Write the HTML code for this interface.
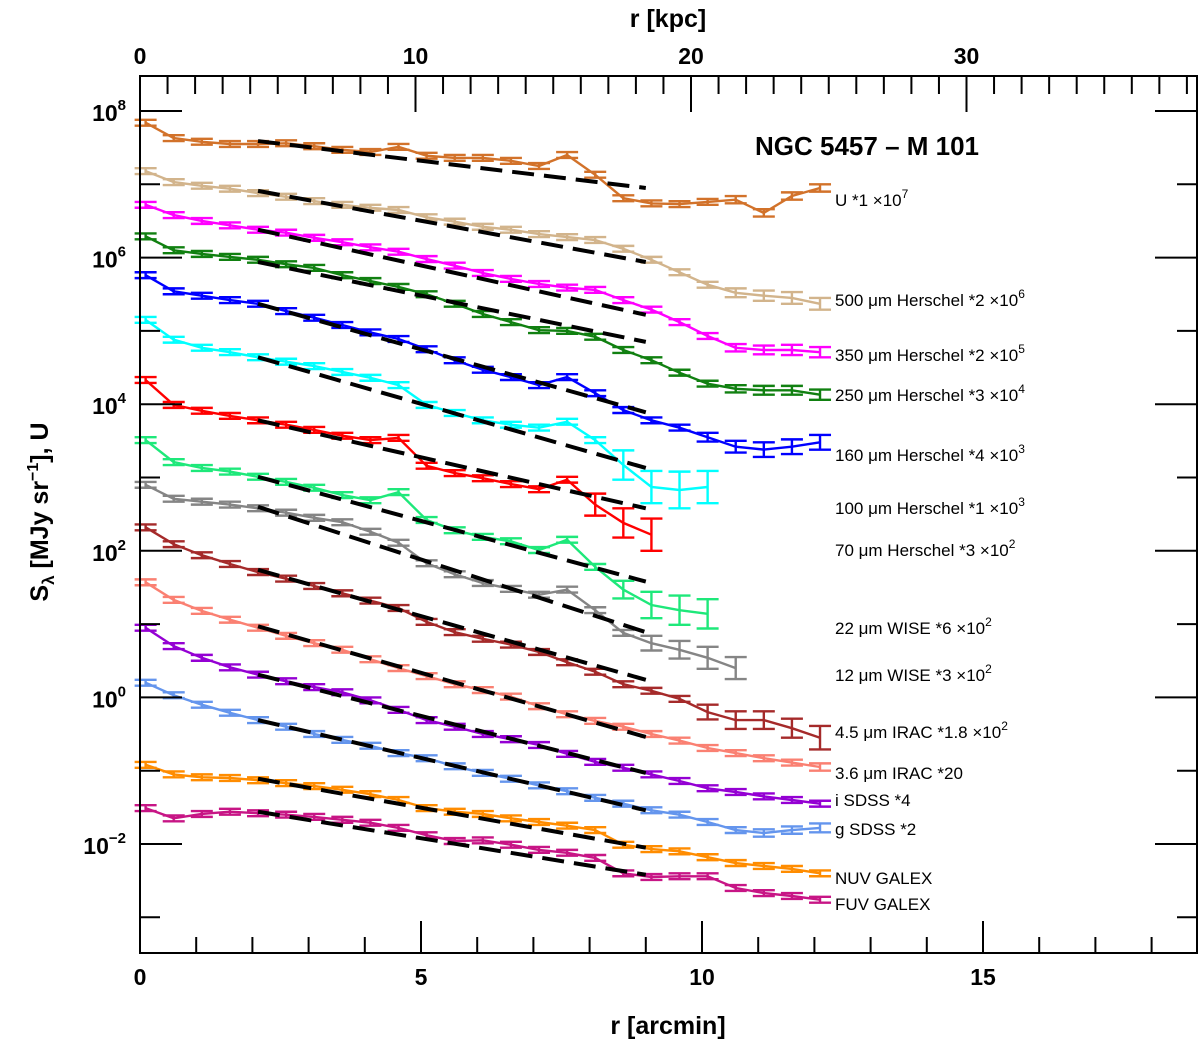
<!DOCTYPE html>
<html><head><meta charset="utf-8"><style>
html,body{margin:0;padding:0;background:#fff;}
svg text{font-family:"Liberation Sans",Arial,sans-serif;}
</style></head><body>
<svg id="chart" width="1200" height="1048" viewBox="0 0 1200 1048" xmlns="http://www.w3.org/2000/svg">
<g id="marks"></g>
<g id="axes"></g>
</svg>
<script>
// radii (arcmin) of profile bins
const radii = [0.1,0.6,1.1,1.6,2.1,2.6,3.1,3.6,4.1,4.6,5.1,5.6,6.1,6.6,7.1,7.6,8.1,8.6,9.1,9.6,10.1,10.6,11.1,11.6,12.1];
// log10 surface brightness (scaled) per band
const logU    = [7.84,7.63,7.58,7.55,7.55,7.56,7.52,7.47,7.44,7.51,7.39,7.36,7.36,7.32,7.25,7.40,7.13,6.81,6.74,6.73,6.76,6.79,6.61,6.84,6.95];
const log500  = [7.18,7.03,6.98,6.94,6.88,6.83,6.77,6.72,6.68,6.65,6.55,6.49,6.42,6.38,6.32,6.28,6.24,6.12,5.97,5.80,5.63,5.52,5.48,5.45,5.37];
const log350  = [6.72,6.58,6.50,6.44,6.38,6.34,6.27,6.21,6.14,6.08,5.98,5.89,5.79,5.71,5.64,5.59,5.56,5.42,5.29,5.12,4.93,4.77,4.74,4.74,4.71];
const log250  = [6.29,6.10,6.05,6.01,5.97,5.91,5.86,5.76,5.68,5.60,5.50,5.37,5.23,5.12,5.01,5.00,4.92,4.74,4.60,4.43,4.28,4.21,4.19,4.19,4.13];
const log160  = [5.76,5.54,5.48,5.42,5.37,5.27,5.18,5.08,4.98,4.89,4.75,4.60,4.47,4.37,4.26,4.37,4.15,3.92,3.78,3.68,3.55,3.42,3.38,3.42,3.48];
const log100  = [5.15,4.88,4.77,4.71,4.64,4.58,4.52,4.44,4.36,4.26,3.99,3.88,3.78,3.72,3.68,3.76,3.51,3.17,2.87,2.83,2.87];
const log70   = [4.33,3.99,3.91,3.84,3.78,3.72,3.65,3.57,3.51,3.54,3.16,3.06,2.99,2.91,2.84,2.97,2.63,2.38,2.22];
const log22   = [3.51,3.21,3.13,3.08,3.01,2.94,2.86,2.76,2.69,2.80,2.42,2.28,2.19,2.13,2.01,2.15,1.78,1.47,1.26,1.19,1.14];
const log12   = [2.90,2.71,2.67,2.63,2.58,2.52,2.45,2.39,2.26,2.11,1.83,1.68,1.56,1.48,1.40,1.47,1.19,0.88,0.74,0.65,0.54,0.40];
const log45   = [2.32,2.09,1.94,1.82,1.71,1.62,1.52,1.42,1.32,1.22,1.03,0.89,0.80,0.72,0.62,0.48,0.35,0.18,0.09,-0.02,-0.20,-0.31,-0.31,-0.42,-0.55];
const log36   = [1.57,1.33,1.18,1.06,0.95,0.84,0.74,0.65,0.52,0.40,0.29,0.18,0.10,0.01,-0.12,-0.23,-0.32,-0.40,-0.50,-0.59,-0.69,-0.76,-0.83,-0.89,-0.95];
const logI    = [0.95,0.70,0.54,0.41,0.31,0.22,0.14,0.07,-0.04,-0.17,-0.31,-0.40,-0.50,-0.57,-0.65,-0.77,-0.88,-0.96,-1.05,-1.14,-1.24,-1.29,-1.35,-1.40,-1.45];
const logG    = [0.20,0.03,-0.10,-0.21,-0.31,-0.40,-0.50,-0.58,-0.66,-0.76,-0.83,-0.94,-1.03,-1.11,-1.20,-1.28,-1.37,-1.45,-1.54,-1.60,-1.70,-1.81,-1.85,-1.81,-1.78];
const logNUV  = [-0.92,-1.05,-1.09,-1.10,-1.13,-1.17,-1.21,-1.26,-1.32,-1.40,-1.51,-1.56,-1.59,-1.65,-1.70,-1.75,-1.81,-2.01,-2.07,-2.10,-2.18,-2.26,-2.30,-2.34,-2.40];
const logFUV  = [-1.51,-1.65,-1.59,-1.56,-1.58,-1.60,-1.63,-1.67,-1.71,-1.78,-1.88,-1.96,-1.95,-2.01,-2.08,-2.12,-2.19,-2.40,-2.45,-2.44,-2.44,-2.60,-2.67,-2.71,-2.76];
// errors (dex) for outer bins, applied to the last N points
const tailErr100 = [0.2,0.22,0.25,0.22];
const tailErr70  = [0.15,0.2,0.22];
const tailErr22  = [0.12,0.18,0.2,0.2];
const tailErr12  = [0.1,0.12,0.15,0.15];
const tailErr45  = [0.1,0.12,0.12,0.13,0.16];
const tailErr160 = [0.06,0.08,0.1,0.1,0.1];
// exponential-disk fit endpoints (log10) from r=2.1 to r=9.0
const fitR = [2.1, 9.0];
const fitStart = [7.59,6.91,6.38,5.94,5.37,4.64,3.78,3.01,2.60,1.74,0.97,0.31,-0.31,-1.11,-1.56];
const fitEnd   = [6.95,5.94,5.22,4.85,3.89,3.13,2.58,1.58,0.89,0.24,-0.54,-1.03,-1.54,-2.05,-2.42];
const bandLabels = ["U *1 ×10","500 μm Herschel *2 ×10","350 μm Herschel *2 ×10","250 μm Herschel *3 ×10","160 μm Herschel *4 ×10","100 μm Herschel *1 ×10","70 μm Herschel *3 ×10","22 μm WISE  *6 ×10","12 μm WISE  *3 ×10","4.5 μm IRAC *1.8 ×10","3.6 μm IRAC *20","i SDSS *4","g SDSS *2","NUV GALEX","FUV GALEX"];
const bandExps = ["7","6","5","4","3","3","2","2","2","2","","","","",""];
const labelY = [200,300,355,395,455,508,550,628,675,732,773,800,829,878,904];
const xTicks = [0,5,10,15];
const kpcTicks = [0,10,20,30];
const yTicks = [8,6,4,2,0,-2];

const colors = ["#d2722a","#d2b48c","#ff00ff","#118011","#0000ff","#00ffff","#ff0000","#1ee87a","#858585","#a52a2a","#fa8072","#9400d3","#6495ed","#ff8c00","#c71585"];
const series = [logU,log500,log350,log250,log160,log100,log70,log22,log12,log45,log36,logI,logG,logNUV,logFUV];
const tails = {0:[0.05,0.05,0.05,0.05],1:[0.06,0.07,0.08,0.08],2:[0.05,0.06,0.07,0.07],3:[0.05,0.06,0.06,0.07],4:tailErr160,5:tailErr100,6:tailErr70,7:tailErr22,8:tailErr12,9:tailErr45,10:[0.04,0.04,0.05],12:[0.05,0.05,0.06]};

const L=140,R=1197,T=76,B=953;
const xS = r => L + r*56.2;
const kS = k => L + k*27.55;
const yS = lg => 111 + (8-lg)*73.3;
const NS="http://www.w3.org/2000/svg";
function mk(tag, attrs, parent){const e=document.createElementNS(NS,tag);for(const k in attrs)e.setAttribute(k,attrs[k]);parent.appendChild(e);return e;}
const marks=document.getElementById('marks'), axes=document.getElementById('axes');

series.forEach((s,i)=>{
  const g=mk('g',{stroke:colors[i],'stroke-width':2.4,fill:'none'},marks);
  
  
  let pts=s.map((v,j)=>xS(radii[j]).toFixed(1)+','+yS(v).toFixed(1)).join(' ');
  mk('polyline',{points:pts},g);
  const tl=tails[i]||[];
  s.forEach((v,j)=>{
    const ti=j-(s.length-tl.length);
    const e = ti>=0 ? tl[ti] : 0.04;
    const x=xS(radii[j]), y1=yS(v+e), y2=yS(v-e);
    mk('line',{x1:x,x2:x,y1:y1,y2:y2},g);
    mk('line',{x1:x-11,x2:x+11,y1:y1,y2:y1},g);
    mk('line',{x1:x-11,x2:x+11,y1:y2,y2:y2},g);
  });
});
fitStart.forEach((v,i)=>{
  const l=mk('line',{x1:xS(fitR[0]),y1:yS(v),x2:xS(fitR[1]),y2:yS(fitEnd[i]),stroke:'#000','stroke-width':4,'stroke-dasharray':'22,10'},marks);
  
  
});
bandLabels.forEach((t,i)=>{
  const tx=mk('text',{x:835,y:labelY[i]+6,'font-size':17,fill:'#000'},axes);
  
  
  tx.textContent=t;
  if(bandExps[i]){const ts=mk('tspan',{dy:-8,'font-size':12},tx);ts.textContent=bandExps[i];}
});
mk('rect',{x:L,y:T,width:R-L,height:B-T,fill:'none',stroke:'#000','stroke-width':2},axes);
for(let r=1;r<=18;r++){const len=(r%5===0)?32:16;mk('line',{x1:xS(r),x2:xS(r),y1:B,y2:B-len,stroke:'#000','stroke-width':2},axes);}
xTicks.forEach(t=>{const e=mk('text',{x:xS(t),y:B+32,'font-size':23,'font-weight':'bold','text-anchor':'middle'},axes);
  
  
  e.textContent=t;});
for(let k=1;k<=38;k++){const len=(k%10===0)?36:18;mk('line',{x1:kS(k),x2:kS(k),y1:T,y2:T+len,stroke:'#000','stroke-width':2},axes);}
kpcTicks.forEach(t=>{const e=mk('text',{x:kS(t),y:T-12,'font-size':23,'font-weight':'bold','text-anchor':'middle'},axes);
  
  
  e.textContent=t;});
for(let d=8;d>=-3;d--){const len=(d%2===0)?42:20;const y=yS(d);
  mk('line',{x1:L,x2:L+len,y1:y,y2:y,stroke:'#000','stroke-width':2},axes);
  mk('line',{x1:R,x2:R-len,y1:y,y2:y,stroke:'#000','stroke-width':2},axes);}
yTicks.forEach(t=>{const e=mk('text',{x:126,y:yS(t)+10,'font-size':23,'font-weight':'bold','text-anchor':'end'},axes);
  
  
  e.textContent='10';const s=mk('tspan',{dy:-11,'font-size':15},e);s.textContent=String(t).replace('-','−');});
</script>
<svg style="position:absolute;left:0;top:0" width="1200" height="1048">
<text x="668" y="1034" font-size="25" font-weight="bold" text-anchor="middle" font-family="Liberation Sans, sans-serif">r [arcmin]</text>
<text x="668" y="27" font-size="25" font-weight="bold" text-anchor="middle" font-family="Liberation Sans, sans-serif">r [kpc]</text>
<text transform="translate(48,512) rotate(-90)" font-size="25" font-weight="bold" text-anchor="middle" font-family="Liberation Sans, DejaVu Sans, sans-serif">S<tspan font-size="17" dy="6">λ</tspan><tspan dy="-6"> [MJy sr</tspan><tspan font-size="16" dy="-10">−1</tspan><tspan dy="10">], U</tspan></text>
<text x="755" y="155" font-size="26" font-weight="bold" font-family="Liberation Sans, sans-serif">NGC 5457 – M 101</text>
</svg>
</body></html>
